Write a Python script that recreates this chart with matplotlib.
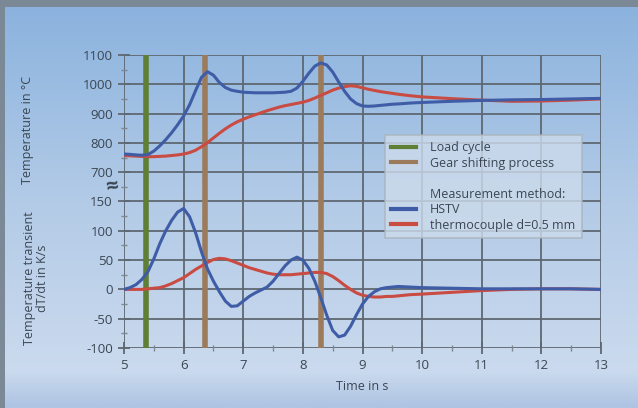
import numpy as np
import matplotlib
matplotlib.use("Agg")
import matplotlib.pyplot as plt
from matplotlib.colors import LinearSegmentedColormap
from matplotlib.lines import Line2D

plt.rcParams['font.family'] = ['Open Sans', 'DejaVu Sans']

# ---------------- data ----------------
time_s = [5.0, 5.1, 5.2, 5.3, 5.4, 5.5, 5.6, 5.7, 5.8, 5.9,
          6.0, 6.1, 6.2, 6.3, 6.4, 6.5, 6.6, 6.7, 6.8, 6.9,
          7.0, 7.1, 7.2, 7.3, 7.4, 7.5, 7.6, 7.7, 7.8, 7.9,
          8.0, 8.1, 8.2, 8.3, 8.4, 8.5, 8.6, 8.7, 8.8, 8.9,
          9.0, 9.1, 9.2, 9.3, 9.4, 9.5, 9.6,
          9.8, 10.0, 10.5, 11.0, 11.5, 12.0, 12.5, 13.0]

temp_hstv = [762, 761, 759, 758, 760, 772, 790, 811, 835, 862,
             892, 930, 978, 1024, 1043, 1031, 1006, 989, 980, 976,
             973, 972, 971, 971, 971, 971, 972, 973, 976, 987,
             1010, 1038, 1062, 1073, 1066, 1042, 1008, 976, 950, 934,
             926, 925, 926, 928, 930, 932, 933,
             936, 938, 942, 945, 947, 948, 950, 952]

temp_tc = [757, 756, 755, 754, 753, 753, 754, 755, 757, 759,
           762, 767, 775, 787, 801, 817, 833, 848, 861, 872,
           881, 889, 896, 903, 910, 916, 922, 927, 931, 935,
           939, 945, 953, 962, 971, 980, 987, 992, 995, 993,
           988, 983, 979, 975, 972, 969, 966,
           961, 957, 951, 946, 942, 943, 946, 950]

rate_hstv = [0, 3, 8, 17, 30, 52, 78, 100, 118, 132,
             138, 124, 97, 64, 35, 14, -4, -20, -29, -28,
             -20, -12, -6, -1, 4, 14, 27, 40, 50, 55,
             50, 36, 14, -14, -44, -70, -81, -78, -63, -43,
             -25, -12, -4, 1, 3, 4, 5,
             4, 3, 2, 1, 1, 1, 1, 0]

rate_tc = [0, 0, 0, 0, 1, 2, 3, 6, 10, 15,
           20, 27, 34, 40, 46, 51, 53, 52, 49, 45,
           41, 37, 34, 31, 28, 26, 25, 25, 25, 26,
           27, 28, 29, 29, 27, 22, 15, 7, 0, -6,
           -10, -12, -13, -13, -12, -12, -11,
           -9, -8, -5, -2, 0, 1, 1, 0]

load_cycle_t = [5.37]
gear_shift_t = [6.36, 8.30]

x_ticks = [5, 6, 7, 8, 9, 10, 11, 12, 13]
temp_ticks = [700, 800, 900, 1000, 1100]
rate_ticks = [-100, -50, 0, 50, 100, 150]


# mapping of both scales onto one axis (broken y axis)
def temp_pos(v):
    return (np.asarray(v, dtype=float) - 700.0) / 100.0 + 4.0


def rate_pos(v):
    return np.asarray(v, dtype=float) / 50.0


# ---------------- figure ----------------
W, H = 638, 408
fig = plt.figure(figsize=(W / 100, H / 100), dpi=100)

# background gradient
bg = fig.add_axes([0, 0, 1, 1], zorder=-10)
bg.set_axis_off()
cmap = LinearSegmentedColormap.from_list(
    "bg", [(0.0, "#8ab2de"), (0.5, "#b3cbe7"), (0.91, "#cbdaee"), (1.0, "#aec4e3")])
grad = np.linspace(0, 1, 400).reshape(-1, 1)
bg.imshow(grad, aspect="auto", cmap=cmap, extent=[0, 1, 0, 1], origin="upper")
bg.set_xlim(0, 1)
bg.set_ylim(0, 1)
bg.add_patch(plt.Rectangle((0, 1 - 7 / H), 1, 7 / H, color="#7b8996", lw=0))
bg.add_patch(plt.Rectangle((0, 0), 5 / W, 1, color="#7b8996", lw=0))

ax = fig.add_axes([124 / W, 1 - 348 / H, (601 - 124) / W, (348 - 55) / H])
ax.patch.set_alpha(0)

grid_c = "#5e6872"
ax.set_xlim(5, 13)
ax.set_ylim(-2, 8)
for x in x_ticks:
    ax.axvline(x, color=grid_c, lw=1.3, zorder=1)
yt_pos = list(rate_pos(rate_ticks)) + list(temp_pos(temp_ticks))
yt_lab = [str(v) for v in rate_ticks] + [str(v) for v in temp_ticks]
for y in yt_pos:
    ax.axhline(y, color=grid_c, lw=1.3, zorder=1)

for s in ax.spines.values():
    s.set_visible(False)

ax.set_xticks(x_ticks)
ax.set_xticklabels([str(v) for v in x_ticks])
ax.set_yticks(yt_pos)
ax.set_yticklabels(yt_lab)
ax.set_xticks(np.array(x_ticks[:-1]) + 0.5, minor=True)
ax.set_yticks(np.array(yt_pos[:-1]) + 0.5, minor=True)
ax.tick_params(axis="both", which="major", direction="inout", length=8, width=1.3,
               color=grid_c, labelsize=9.5, labelcolor="#3a4653", pad=4)
ax.tick_params(axis="both", which="minor", direction="inout", length=4, width=1.0,
               color="#7d8790")

# event lines
for t in load_cycle_t:
    ax.axvline(t, color="#5f7f35", lw=4, zorder=3)
for t in gear_shift_t:
    ax.axvline(t, color="#9c7b5c", lw=4, zorder=3)

blue = "#3f5ca6"
red = "#c94b42"
kw = dict(lw=2.2, solid_joinstyle="round", solid_capstyle="round")
ax.plot(time_s, rate_pos(rate_tc), color=red, zorder=4, **kw)
ax.plot(time_s, rate_pos(rate_hstv), color=blue, zorder=5, **kw)
ax.plot(time_s, temp_pos(temp_tc), color=red, zorder=4, **kw)
ax.plot(time_s, temp_pos(temp_hstv), color=blue, zorder=5, **kw)

# axis break symbol
ax.text(-0.008, (3.5 + 2) / 10, "≈", transform=ax.transAxes, ha="right", va="center",
        fontsize=16, color="#3a4653", fontweight="bold", rotation=10, clip_on=False)

# labels
txt_c = "#3a4653"
fig.text(362 / W, 1 - 387 / H, "Time in s", ha="center", va="center", fontsize=9, color=txt_c)
fig.text(27 / W, 1 - 130 / H, "Temperature in °C", ha="center", va="center",
         rotation=90, fontsize=9, color=txt_c)
fig.text(36 / W, 1 - 278 / H, "Temperature transient\ndT/dt in K/s", ha="center",
         va="center", rotation=90, fontsize=9, color=txt_c, linespacing=1.1)

# legend
handles = [
    Line2D([], [], color="#5f7f35", lw=3),
    Line2D([], [], color="#9c7b5c", lw=3),
    Line2D([], [], color="none"),
    Line2D([], [], color="none"),
    Line2D([], [], color=blue, lw=3),
    Line2D([], [], color=red, lw=3),
]
labels = ["Load cycle", "Gear shifting process", " ", "Measurement method:",
          "HSTV", "thermocouple d=0.5 mm"]
leg = ax.legend(handles, labels, loc="upper left",
                bbox_to_anchor=((385 - 124) / (601 - 124), 1 - (135 - 55) / (348 - 55)),
                fontsize=9, frameon=True, fancybox=False, labelspacing=0.2,
                handlelength=2.0, handletextpad=1.1, borderpad=0.5, borderaxespad=0,
                labelcolor=txt_c)
fr = leg.get_frame()
fr.set_facecolor("#cddbec")
fr.set_alpha(0.8)
fr.set_edgecolor("#a9b3bd")
fr.set_linewidth(1.2)
leg.set_zorder(10)

fig.savefig("out.png", dpi=100)
